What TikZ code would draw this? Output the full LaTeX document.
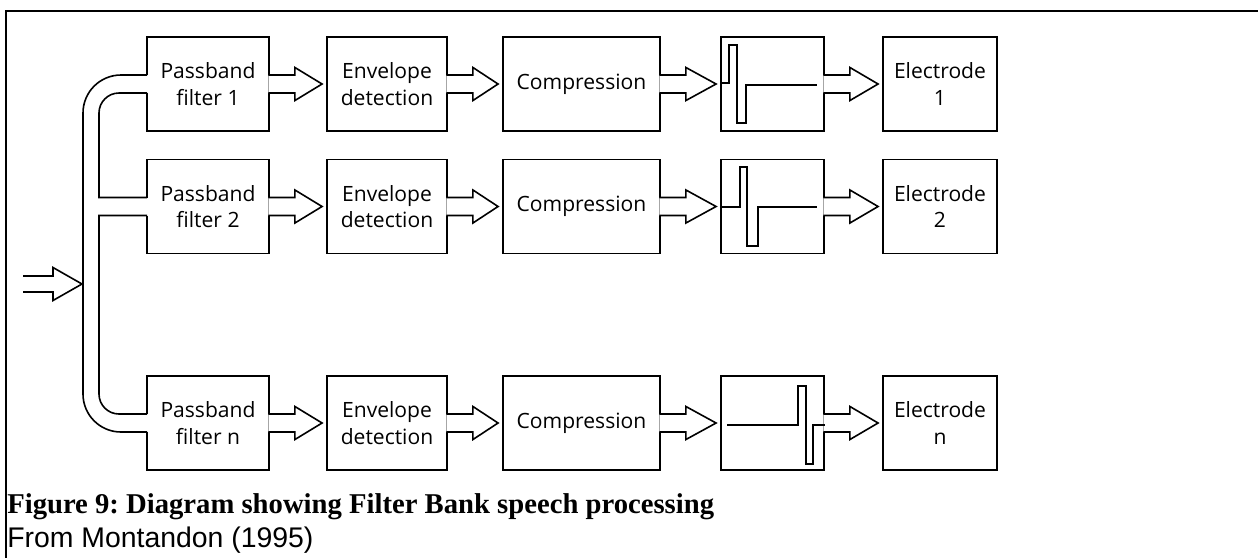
\documentclass[tikz,border=0pt]{standalone}
\usepackage{fontspec}
\setmainfont{Liberation Serif}
\newfontfamily\boxfont{Open Sans}
\newfontfamily\srcfont{Liberation Sans}
\usetikzlibrary{calc}
\frenchspacing
\tikzset{
  box/.style={draw, line width=1.4pt, minimum height=70.5pt, inner sep=0pt, align=center,
    font=\boxfont\fontsize{15.8}{20}\selectfont},
  arr/.style={draw, fill=white, line width=1.2pt, line join=miter},
  wire/.style={line width=1.2pt},
  pulse/.style={line width=1.4pt, line join=miter},
  gapfill/.style={fill=white},
  frame/.style={line width=2pt},
}
\newcommand\blockarrow[2]{%
  \path[arr] ($(#1.east)+(-1.5,-9)$) -- ($(#1.east)+(25,-9)$) -- ($(#1.east)+(25,-16.5)$)
    -- ($(#2.west)+(-4,0)$) -- ($(#1.east)+(25,16.5)$) -- ($(#1.east)+(25,9)$)
    -- ($(#1.east)+(-1.5,9)$);}
\begin{document}
\begin{tikzpicture}[x=0.75pt,y=-0.75pt]
\useasboundingbox (0,0) rectangle (1258,558);
% frame
\draw[frame] (5,11) -- (1258,11);
\draw[frame] (6,11) -- (6,558);
% rows
\foreach \r/\y/\k in {1/84/1, 2/206.5/2, n/423/n}{
  \node[box, minimum width=91.5pt] (pb\r) at (208,\y) {Passband\\filter \k};
  \node[box, minimum width=90pt] (ev\r) at (387,\y) {Envelope\\detection};
  \node[box, minimum width=117.75pt] (cp\r) at (581.5,\y) {Compression};
  \node[box, minimum width=77.25pt] (pu\r) at (772.5,\y) {};
  \node[box, minimum width=85.5pt] (el\r) at (940,\y) {Electrode\\\k};
  \blockarrow{pb\r}{ev\r}
  \blockarrow{ev\r}{cp\r}
  \blockarrow{cp\r}{pu\r}
  \blockarrow{pu\r}{el\r}
  \fill[gapfill] ($(pb\r.west)+(-1.5,-9)$) rectangle ($(pb\r.west)+(1.5,9)$);
}
% pulses
\draw[pulse] (pu1.west |- 0,83) -- (729,83) -- (729,45) -- (737,45) -- (737,123) -- (746,123) -- (746,85) -- (817,85);
\draw[pulse] (pu2.west |- 0,207) -- (740,207) -- (740,167) -- (747,167) -- (747,246) -- (758,246) -- (758,207) -- (817,207);
\draw[pulse] (727,425) -- (798,425) -- (798,386) -- (806,386) -- (806,464) -- (813,464) -- (813,425) -- (pun.east |- 0,425);
% manifold
\coordinate (in) at (23,284);
\coordinate (bus) at (83,284);
\draw[wire] ($(pb1.west)+(1,-9)$) -- (121,75) arc[start angle=90, end angle=180, radius=28.5pt]
  -- (83,394) arc[start angle=180, end angle=270, radius=28.5pt] -- ($(pbn.west)+(1,9)$);
\draw[wire] ($(pb1.west)+(1,9)$) -- (119,93) arc[start angle=90, end angle=180, radius=15pt]
  -- (99,197.5) -- ($(pb2.west)+(1,-9)$);
\draw[wire] ($(pb2.west)+(1,9)$) -- (99,215.5) -- (99,394) arc[start angle=180, end angle=270, radius=15pt]
  -- ($(pbn.west)+(1,-9)$);
\path[arr] ($(in)+(0,-8)$) -- ($(in)+(30,-8)$) -- ($(in)+(30,-16.5)$) -- ($(bus)+(-1,0)$)
  -- ($(in)+(30,16.5)$) -- ($(in)+(30,8)$) -- ($(in)+(0,8)$);
% caption
\node[anchor=base west, inner sep=0pt, font=\bfseries\fontsize{21.5}{24}\selectfont] (cap) at (7,513)
  {Figure 9: Diagram showing Filter Bank speech processing};
\node[anchor=base west, inner sep=0pt, font=\srcfont\fontsize{21.3}{24}\selectfont] (src) at (7,547)
  {From Montandon (1995)};
\end{tikzpicture}
\end{document}
